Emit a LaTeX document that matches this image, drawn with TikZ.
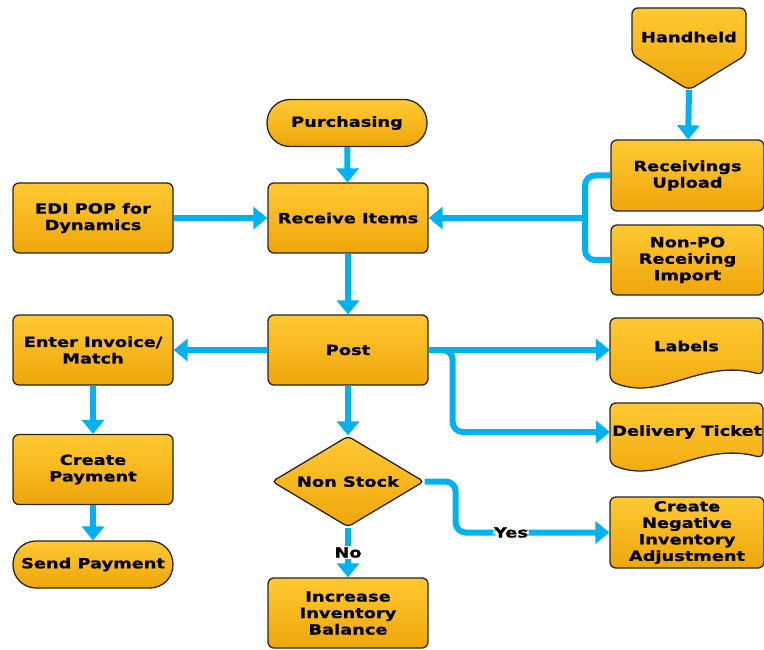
\documentclass[tikz,border=0pt]{standalone}
\usepackage{fontspec}
\newfontfamily\chartfont[FakeStretch=1.27,BoldFeatures={FakeBold=0.8}]{DejaVu Sans}
\usetikzlibrary{shapes.geometric,arrows.meta}
\definecolor{boxtop}{RGB}{255,201,50}
\definecolor{boxbot}{RGB}{238,166,10}
\definecolor{flowblue}{RGB}{0,178,240}
\definecolor{rim}{RGB}{40,36,30}

\begin{document}
\begin{tikzpicture}[x=1pt,y=-1pt,font=\chartfont\bfseries\fontsize{14}{16.5}\selectfont]
	% `process' is used for the plain steps, `terminal' for the rounded ends.
	% `flow' is used for the blue arrows.
	\tikzstyle{shapefill} = [draw=rim,line width=1.3pt,top color=boxtop,bottom color=boxbot,rounded corners=6pt]
	\tikzstyle{process} = [shapefill,align=center,inner sep=2pt,minimum width=160pt,minimum height=70pt]
	\tikzstyle{terminal} = [process,rounded corners=23pt,minimum height=47pt]
	\tikzstyle{decision} = [shapefill,diamond,aspect=1.7,rounded corners=4pt,inner sep=0pt,minimum width=152pt,minimum height=91pt]
	\tikzstyle{doctext} = [align=center,inner sep=2pt,minimum height=60pt]
	\tikzstyle{flowline} = [draw=flowblue,line width=6pt]
	\tikzstyle{flow} = [flowline,-{Triangle[width=22pt,length=14pt]}]
	\tikzstyle{answer} = [fill=white,inner sep=1pt]
	%
	\useasboundingbox (0,0) rectangle (764,650);
	\clip (0,0) rectangle (764,650);
	% Left and middle columns.
	\node[terminal] (purch) at (347,123) {Purchasing};
	\node[process] (recv) at (348,218) {Receive Items};
	\node[process] (edi) at (93,218) {EDI POP for\\Dynamics};
	\node[process] (post) at (348,350) {Post};
	\node[process] (invoice) at (93,350) {Enter Invoice/\\Match};
	\node[process] (pay) at (93,469.5) {Create\\Payment};
	\node[terminal,minimum width=160pt] (send) at (93,564.5) {Send Payment};
	\node[decision] (nonstock) at (348,481.5) {Non Stock};
	\node[process] (incr) at (348,613) {Increase\\Inventory\\Balance};
	% Right column.
	\shade[shapefill] (632,8) -- (746,8) -- (746,55) -- (689,90) -- (632,55) -- cycle;
	\node (hand) at (689,37) {Handheld};
	\coordinate (handtip) at (689,90);
	\node[process,minimum width=153pt,minimum height=71pt] (rupl) at (687.5,175.5) {Receivings\\Upload};
	\node[process,minimum width=153pt] (nonpo) at (687.5,260) {Non-PO\\Receiving\\Import};
	\shade[shapefill] (610,318) -- (763,318) -- (763,375) .. controls (700,358) and (662,402) .. (610,381) -- cycle;
	\node[doctext,minimum width=153pt] (labels) at (686.5,346) {Labels};
	\shade[shapefill] (610,403) -- (763,403) -- (763,458) .. controls (700,441) and (662,485) .. (610,464) -- cycle;
	\node[doctext,anchor=west] (deliv) at (610,432) {Delivery Ticket};
	\node[process,minimum width=154pt,minimum height=71pt] (negadj) at (687,532.5) {Create\\Negative\\Inventory\\Adjustment};
	%
	% Draw connectors.
	\coordinate (brace) at (585,218);
	\draw[flow] (purch) -- (recv);
	\draw[flow] (edi) -- (recv);
	\draw[flow] (handtip) -- (rupl);
	\draw[flowline,rounded corners=10pt] (rupl.west) -| (brace) |- (nonpo.west);
	\draw[flow] (brace) -- (recv.east);
	\draw[flow] (recv) -- (post);
	\draw[flow] (post) -- (invoice);
	\draw[flow] (invoice) -- (pay);
	\draw[flow] (pay) -- (send);
	\draw[flow] (post.east) -- (post.east -| labels.west);
	\draw[flow,rounded corners=10pt] (post.east) -- ++(24,0) |- (deliv.west);
	\draw[flow] (post) -- (nonstock);
	\draw[flow,rounded corners=10pt] (nonstock.east) -- ++(31,0) |- node[answer,pos=0.68] {Yes} (negadj.west);
	\draw[flow] (nonstock.south) -- node[answer] {No} (incr.north);
\end{tikzpicture}
\end{document}
